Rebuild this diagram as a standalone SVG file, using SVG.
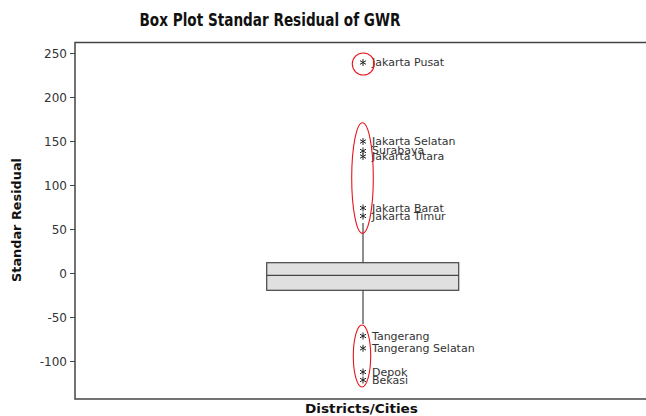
<svg xmlns="http://www.w3.org/2000/svg" width="646" height="416" viewBox="0 0 646 416">
  <style>
    .title { font-family: "DejaVu Sans", Verdana, sans-serif; font-weight: bold; font-size: 17px; fill: #111; }
    .axis-title { font-family: "DejaVu Sans", Verdana, sans-serif; font-weight: bold; font-size: 13px; fill: #111; }
    .tick-label { font-family: "DejaVu Sans", Verdana, sans-serif; font-size: 12px; fill: #333; text-anchor: end; }
    .pt-label { font-family: "DejaVu Sans", Verdana, sans-serif; font-size: 11px; fill: #333; }
    .frame { fill: none; stroke: #444; stroke-width: 1.5; }
    .tick { stroke: #444; stroke-width: 1; }
    .box { fill: #e0e0e0; stroke: #444; stroke-width: 1.2; }
    .whisker { stroke: #444; stroke-width: 1.2; }
    .ring { fill: none; stroke: #e8141b; stroke-width: 1.1; }
  </style>
  <defs>
    <!-- six-armed asterisk used for outlier points -->
    <g id="star" stroke="#222" stroke-width="1" fill="none">
      <path d="M0,-3.5 V3.5 M-3,-1.8 L3,1.8 M-3,1.8 L3,-1.8"/>
    </g>
  </defs>

  <rect width="646" height="416" fill="#ffffff"/>

  <!-- titles -->
  <text class="title" x="270" y="26" text-anchor="middle" textLength="261" lengthAdjust="spacingAndGlyphs">Box Plot Standar Residual of GWR</text>
  <text class="axis-title" transform="translate(21,220) rotate(-90)" text-anchor="middle" textLength="124" lengthAdjust="spacingAndGlyphs">Standar Residual</text>
  <text class="axis-title" x="361.5" y="413" text-anchor="middle" textLength="113" lengthAdjust="spacingAndGlyphs">Districts/Cities</text>

  <!-- plot frame (extends past the right edge) -->
  <rect class="frame" x="75" y="42.5" width="600" height="356.5"/>

  <!-- y axis ticks and labels -->
  <g id="y-axis">
    <line class="tick" x1="70" y1="53.5" x2="75" y2="53.5"/>
    <line class="tick" x1="70" y1="97.5" x2="75" y2="97.5"/>
    <line class="tick" x1="70" y1="141.5" x2="75" y2="141.5"/>
    <line class="tick" x1="70" y1="185.5" x2="75" y2="185.5"/>
    <line class="tick" x1="70" y1="229.5" x2="75" y2="229.5"/>
    <line class="tick" x1="70" y1="273.5" x2="75" y2="273.5"/>
    <line class="tick" x1="70" y1="317.5" x2="75" y2="317.5"/>
    <line class="tick" x1="70" y1="361.5" x2="75" y2="361.5"/>
    <text class="tick-label" x="67" y="58">250</text>
    <text class="tick-label" x="67" y="102">200</text>
    <text class="tick-label" x="67" y="146">150</text>
    <text class="tick-label" x="67" y="190">100</text>
    <text class="tick-label" x="67" y="234">50</text>
    <text class="tick-label" x="67" y="278">0</text>
    <text class="tick-label" x="67" y="322">-50</text>
    <text class="tick-label" x="67" y="366">-100</text>
  </g>

  <!-- box and whiskers -->
  <g id="boxplot">
    <line class="whisker" x1="363" y1="223" x2="363" y2="263"/>
    <line class="whisker" x1="363" y1="290" x2="363" y2="324"/>
    <rect class="box" x="266.7" y="262.7" width="192" height="27.6"/>
    <line class="whisker" x1="266.7" y1="275.3" x2="458.7" y2="275.3"/>
  </g>

  <!-- outliers -->
  <g id="outliers">
    <use href="#star" x="363" y="62.5"/>
    <text class="pt-label" x="372" y="66">Jakarta Pusat</text>

    <use href="#star" x="363" y="141.5"/>
    <text class="pt-label" x="372" y="145">Jakarta Selatan</text>
    <use href="#star" x="363" y="151"/>
    <text class="pt-label" x="372" y="154">Surabaya</text>
    <use href="#star" x="363" y="156.5"/>
    <text class="pt-label" x="372" y="160">Jakarta Utara</text>
    <use href="#star" x="363" y="208"/>
    <text class="pt-label" x="372" y="212">Jakarta Barat</text>
    <use href="#star" x="363" y="216"/>
    <text class="pt-label" x="372" y="219.5">Jakarta Timur</text>

    <use href="#star" x="363" y="336"/>
    <text class="pt-label" x="372" y="340">Tangerang</text>
    <use href="#star" x="363" y="348.3"/>
    <text class="pt-label" x="372" y="352">Tangerang Selatan</text>
    <use href="#star" x="363" y="372"/>
    <text class="pt-label" x="372" y="376">Depok</text>
    <use href="#star" x="363" y="380"/>
    <text class="pt-label" x="372" y="383.5">Bekasi</text>
  </g>

  <!-- highlight rings -->
  <g id="highlights">
    <circle class="ring" cx="363.3" cy="64" r="11"/>
    <ellipse class="ring" cx="362.5" cy="178" rx="10.8" ry="55.3"/>
    <ellipse class="ring" cx="362" cy="356" rx="8.7" ry="31"/>
  </g>
</svg>
